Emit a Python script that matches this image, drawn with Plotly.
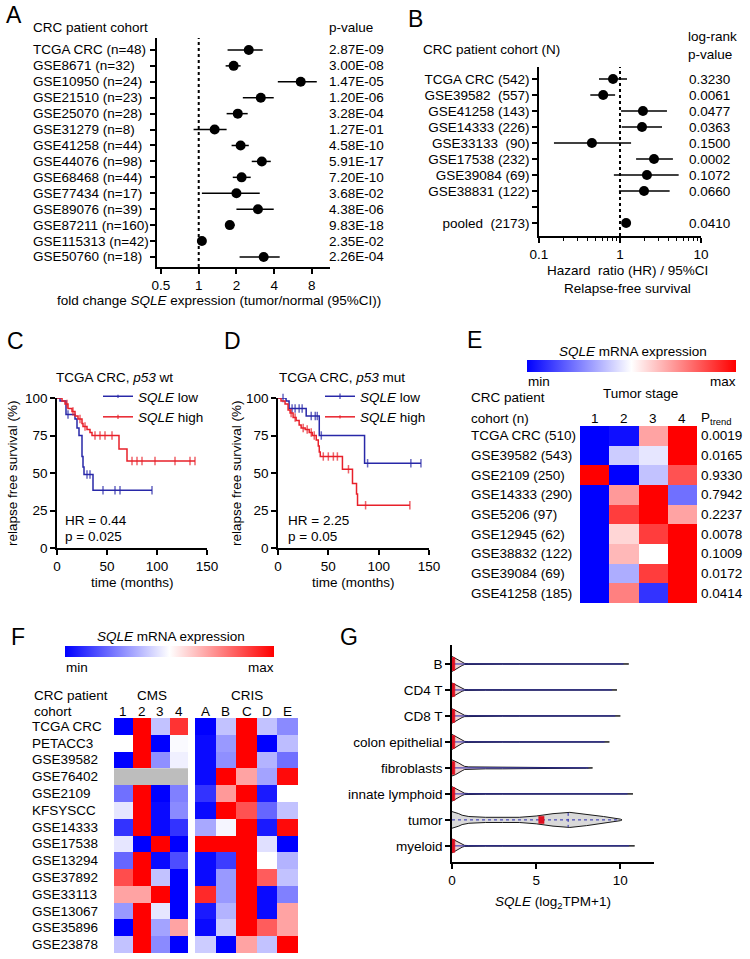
import plotly.graph_objects as go

W, H = 750, 959
FONT = "Liberation Sans, Arial, sans-serif"
FS = 13.5

# ---------------- Panel A data ----------------
a_cohorts = ["TCGA CRC (n=48)", "GSE8671 (n=32)", "GSE10950 (n=24)", "GSE21510 (n=23)",
             "GSE25070 (n=28)", "GSE31279 (n=8)", "GSE41258 (n=44)", "GSE44076 (n=98)",
             "GSE68468 (n=44)", "GSE77434 (n=17)", "GSE89076 (n=39)", "GSE87211 (n=160)",
             "GSE115313 (n=42)", "GSE50760 (n=18)"]
a_fc = [2.51, 1.90, 6.52, 3.13, 2.05, 1.34, 2.16, 3.19, 2.20, 2.00, 2.97, 1.77, 1.06, 3.30]
a_lo = [1.70, 1.64, 4.28, 2.25, 1.67, 0.91, 1.83, 2.65, 1.87, 1.06, 2.00, 1.64, 1.03, 2.12]
a_hi = [3.24, 2.16, 8.76, 3.97, 2.46, 1.67, 2.51, 3.76, 2.60, 3.07, 3.97, 1.94, 1.09, 4.43]
a_p = ["2.87E-09", "3.00E-08", "1.47E-05", "1.20E-06", "3.28E-04", "1.27E-01", "4.58E-10",
       "5.91E-17", "7.20E-10", "3.68E-02", "4.38E-06", "9.83E-18", "2.35E-02", "2.26E-04"]
a_ticks = [0.5, 1, 2, 4, 8]

# ---------------- Panel B data ----------------
b_cohorts = ["TCGA CRC (542)", "GSE39582\u00a0 (557)", "GSE41258 (143)", "GSE14333 (226)",
             "GSE33133\u00a0 (90)", "GSE17538 (232)", "GSE39084 (69)", "GSE38831 (122)", " ",
             "pooled\u00a0 (2173)"]
b_hr = [0.82, 0.62, 1.92, 1.87, 0.45, 2.63, 2.15, 1.98, None, 1.19]
b_lo = [0.55, 0.43, 1.03, 1.05, 0.153, 1.58, 0.84, 0.97, None, 1.08]
b_hi = [1.22, 0.87, 3.80, 3.30, 1.37, 4.50, 5.30, 4.10, None, 1.30]
b_p = ["0.3230", "0.0061", "0.0477", "0.0363", "0.1500", "0.0002", "0.1072", "0.0660", "", "0.0410"]
b_ticks = [0.1, 1, 10]
b_minor = [0.2, 0.3, 0.4, 0.5, 0.6, 0.7, 0.8, 0.9, 2, 3, 4, 5, 6, 7, 8, 9]

# ---------------- Panel C / D data (Kaplan-Meier) ----------------
c_low_t = [0, 3, 9, 18, 20, 22, 25, 26, 27, 36, 95]
c_low_s = [100, 98, 89, 86, 80, 75, 61, 54, 49, 38.5, 38.5]
c_low_cens = [11, 30, 33, 46, 58, 63, 95]
c_high_t = [0, 5, 8, 11, 15, 18, 21, 25, 26, 30, 33, 35, 62, 70, 138]
c_high_s = [100, 98, 96, 93, 91, 88, 86, 83, 81, 79, 77, 75, 66, 58, 58]
c_high_cens = [10, 16, 23, 28, 38, 43, 48, 55, 75, 80, 85, 98, 118, 133, 138]

d_low_t = [0, 8, 11, 28, 41, 86, 142]
d_low_s = [100, 98, 93, 88, 75, 56.5, 56.5]
d_low_cens = [5, 14, 17, 21, 24, 33, 37, 39, 43, 89, 132, 142]
d_high_t = [0, 3, 7, 10, 12, 15, 18, 21, 23, 27, 31, 34, 38, 40, 41, 42, 64, 74, 78, 79, 131]
d_high_s = [100, 98, 96, 92, 90, 87, 85, 82, 80, 79, 77, 75, 72, 68, 64, 61, 52.5, 43, 36, 28.5, 28.5]
d_high_cens = [13, 17, 25, 29, 33, 36, 45, 50, 55, 59, 70, 87, 131]

km_xticks = [0, 50, 100, 150]
km_yticks = [0, 25, 50, 75, 100]

# ---------------- Panel E data ----------------
e_cohorts = ["TCGA CRC (510)", "GSE39582 (543)", "GSE2109 (250)", "GSE14333 (290)", "GSE5206 (97)",
             "GSE12945 (62)", "GSE38832 (122)", "GSE39084 (69)", "GSE41258 (185)"]
e_stages = ["1", "2", "3", "4"]
e_z = [[0.00, 0.03, 0.68, 1.00],
       [0.00, 0.40, 0.45, 1.00],
       [1.00, 0.00, 0.38, 0.84],
       [0.00, 0.70, 1.00, 0.22],
       [0.00, 0.88, 1.00, 0.68],
       [0.00, 0.58, 0.88, 1.00],
       [0.00, 0.64, 0.50, 1.00],
       [0.00, 0.34, 0.88, 1.00],
       [0.00, 0.75, 0.10, 1.00]]
e_p = ["0.0019", "0.0165", "0.9330", "0.7942", "0.2237", "0.0078", "0.1009", "0.0172", "0.0414"]

# ---------------- Panel F data ----------------
f_cohorts = ["TCGA CRC", "PETACC3", "GSE39582", "GSE76402", "GSE2109", "KFSYSCC", "GSE14333",
             "GSE17538", "GSE13294", "GSE37892", "GSE33113", "GSE13067", "GSE35896", "GSE23878"]
f_cms_labels = ["1", "2", "3", "4"]
f_cris_labels = ["A", "B", "C", "D", "E"]
f_cms = [[0.00, 1.00, 0.38, 0.90],
         [0.50, 1.00, 0.00, 0.49],
         [0.00, 1.00, 0.28, 0.47],
         [None, None, None, None],
         [0.22, 1.00, 0.00, 0.25],
         [0.45, 1.00, 0.02, 0.27],
         [0.10, 1.00, 0.02, 0.10],
         [0.45, 0.00, 1.00, 0.00],
         [0.20, 1.00, 0.02, 0.15],
         [0.85, 1.00, 0.38, 0.00],
         [0.68, 0.68, 1.00, 0.00],
         [0.30, 1.00, 0.45, 0.00],
         [0.00, 1.00, 0.32, 0.68],
         [0.38, 1.00, 0.27, 0.00]]
f_cris = [[0.00, 0.38, 1.00, 0.38, 0.27],
          [0.02, 0.30, 1.00, 0.00, 0.37],
          [0.02, 0.28, 1.00, 0.35, 0.22],
          [0.02, 1.00, 0.68, 0.32, 0.98],
          [0.10, 0.70, 1.00, 0.05, 0.50],
          [0.02, 1.00, 0.84, 0.20, 0.38],
          [0.33, 0.48, 1.00, 0.05, 0.98],
          [1.00, 1.00, 1.00, 0.44, 0.00],
          [0.02, 0.12, 1.00, 0.50, 0.35],
          [0.02, 0.30, 1.00, 0.82, 0.38],
          [0.92, 0.30, 1.00, 0.02, 0.25],
          [0.05, 0.35, 1.00, 0.02, 0.68],
          [0.02, 0.40, 1.00, 0.82, 0.68],
          [0.40, 0.00, 0.68, 0.38, 1.00]]

# ---------------- Panel G data (violin density profiles, half-width in row units) ----------------
g_cells = ["B", "CD4 T", "CD8 T", "colon epithelial", "fibroblasts", "innate lymphoid", "tumor", "myeloid"]
g_grid = [0, 0.2, 0.4, 0.6, 0.75, 1, 2, 3, 4, 5, 6, 7, 8, 9, 10]
g_max = [10.5, 9.8, 10.0, 9.35, 8.35, 10.75, 10.1, 10.85]
g_width_B = [0.29, 0.22, 0.14, 0.06, 0.02, 0.012, 0.01, 0.01, 0.01, 0.01, 0.01, 0.01, 0.008, 0.007, 0.006]
g_width_CD4 = [0.27, 0.20, 0.12, 0.05, 0.02, 0.012, 0.01, 0.01, 0.01, 0.01, 0.01, 0.008, 0.007, 0.006, 0.005]
g_width_CD8 = [0.28, 0.21, 0.13, 0.06, 0.025, 0.014, 0.012, 0.01, 0.01, 0.01, 0.01, 0.008, 0.007, 0.006, 0.005]
g_width_epi = [0.29, 0.22, 0.14, 0.06, 0.02, 0.012, 0.01, 0.01, 0.01, 0.01, 0.01, 0.008, 0.007, 0.006, 0.005]
g_width_fib = [0.31, 0.26, 0.19, 0.11, 0.06, 0.04, 0.035, 0.035, 0.035, 0.03, 0.03, 0.02, 0.01, 0.0, 0.0]
g_width_ilc = [0.28, 0.21, 0.13, 0.06, 0.025, 0.014, 0.012, 0.01, 0.01, 0.01, 0.01, 0.008, 0.007, 0.006, 0.005]
g_width_tum = [0.32, 0.29, 0.24, 0.18, 0.15, 0.13, 0.10, 0.10, 0.10, 0.15, 0.24, 0.29, 0.22, 0.13, 0.03]
g_width_mye = [0.27, 0.20, 0.12, 0.05, 0.02, 0.012, 0.01, 0.01, 0.01, 0.01, 0.01, 0.008, 0.007, 0.006, 0.005]
g_widths = [g_width_B, g_width_CD4, g_width_CD8, g_width_epi, g_width_fib, g_width_ilc, g_width_tum, g_width_mye]
g_median = [0, 0, 0, 0, 0, 0, 5.15, 0]
g_q3 = [None, None, None, None, None, None, 6.9, None]
g_xticks = [0, 5, 10]

# ---------------- helpers ----------------
def px(x):
    return x / W

def py(y):
    return 1 - y / H

def dom_x(a, b):
    return [a / W, b / W]

def dom_y(top, bottom):
    return [1 - bottom / H, 1 - top / H]

BLUE_KM = "#2828a8"
RED_KM = "#e8202a"
CS = [[0, "#0000ff"], [0.5, "#ffffff"], [1, "#ff0000"]]

annotations = []
shapes = []

def ann(text, x, y, xanchor="left", yanchor="middle", size=FS, xref="paper", yref="paper", angle=0):
    annotations.append(dict(
        text=text, showarrow=False, xanchor=xanchor, yanchor=yanchor, textangle=angle,
        x=px(x) if xref == "paper" else x, y=py(y) if yref == "paper" else y,
        xref=xref, yref=yref, borderpad=0,
        font=dict(size=size, family=FONT, color="black")))

def axstyle(**kw):
    d = dict(showline=True, linecolor="black", linewidth=1.5, ticks="outside", ticklen=5,
             tickwidth=1.5, tickcolor="black", showgrid=False, zeroline=False, fixedrange=True,
             automargin=False, tickfont=dict(size=FS, family=FONT, color="black"))
    d.update(kw)
    return d

fig = go.Figure()

# ---------------- Panel A ----------------
a_rows = list(range(len(a_cohorts)))
fig.add_trace(go.Scatter(
    x=a_fc, y=a_rows, mode="markers", xaxis="x", yaxis="y", showlegend=False, cliponaxis=False,
    marker=dict(color="black", size=10),
    error_x=dict(type="data", symmetric=False, array=[h - f for h, f in zip(a_hi, a_fc)],
                 arrayminus=[f - l for f, l in zip(a_fc, a_lo)], color="black", thickness=1.5, width=0)))
shapes.append(dict(type="line", xref="x", yref="y domain", x0=1, x1=1, y0=0, y1=1,
                   line=dict(color="black", width=2, dash="dot"), layer="below"))
for i, (lab, p) in enumerate(zip(a_cohorts, a_p)):
    ann(lab, 32, i, yref="y")
    ann(p, 328, i, yref="y")
ann("CRC patient cohort", 32, 28)
ann("p-value", 328, 28)
ann("fold change <i>SQLE</i> expression (tumor/normal (95%CI))", 219, 300, xanchor="center")
ann("A", 5, 15, size=23)

# ---------------- Panel B ----------------
b_rows = list(range(len(b_cohorts)))
fig.add_trace(go.Scatter(
    x=b_hr, y=b_rows, mode="markers", xaxis="x2", yaxis="y2", showlegend=False, cliponaxis=False,
    marker=dict(color="black", size=10),
    error_x=dict(type="data", symmetric=False,
                 array=[(h - v) if v is not None else 0 for h, v in zip(b_hi, b_hr)],
                 arrayminus=[(v - l) if v is not None else 0 for v, l in zip(b_hr, b_lo)],
                 color="black", thickness=1.5, width=0)))
shapes.append(dict(type="line", xref="x2", yref="y2 domain", x0=1, x1=1, y0=0, y1=1,
                   line=dict(color="black", width=2, dash="dot"), layer="below"))
for i, p in enumerate(b_p):
    if p:
        ann(p, 688, i, yref="y2")
ann("CRC patient cohort (N)", 422, 49)
ann("log-rank", 687, 37)
ann("p-value", 687, 54)
ann("Hazard\u00a0 ratio (HR) / 95%CI", 627, 270, xanchor="center")
ann("Relapse-free survival", 627, 289, xanchor="center")
ann("B", 407, 19, size=23)

# ---------------- Panels C / D ----------------
def km_trace(ts, ss, cens, color, name, xa, ya, legend, show):
    pts = [(t, s, 0) for t, s in zip(ts, ss)]
    for c in cens:
        lvl = ss[0]
        for t, s in zip(ts, ss):
            if t <= c:
                lvl = s
        pts.append((c, lvl, 6))
    pts.sort(key=lambda p: (p[0], p[2]))
    return go.Scatter(
        x=[p[0] for p in pts], y=[p[1] for p in pts], mode="lines+markers", line_shape="hv",
        line=dict(color=color, width=1.5), name=name, xaxis=xa, yaxis=ya, legend=legend,
        showlegend=show, cliponaxis=False,
        marker=dict(symbol="line-ns", size=[p[2] for p in pts], color=color,
                    line=dict(width=1.5, color=color)))

fig.add_trace(km_trace(c_low_t, c_low_s, c_low_cens, BLUE_KM, "<i>SQLE</i> low", "x3", "y3", "legend", True))
fig.add_trace(km_trace(c_high_t, c_high_s, c_high_cens, RED_KM, "<i>SQLE</i> high", "x3", "y3", "legend", True))
fig.add_trace(km_trace(d_low_t, d_low_s, d_low_cens, BLUE_KM, "<i>SQLE</i> low", "x4", "y4", "legend2", True))
fig.add_trace(km_trace(d_high_t, d_high_s, d_high_cens, RED_KM, "<i>SQLE</i> high", "x4", "y4", "legend2", True))

ann("C", 6, 341, size=23)
ann("TCGA CRC, <i>p53</i> wt", 55, 377)
ann("HR = 0.44", 64, 520)
ann("p = 0.025", 64, 536)
ann("relapse free survival (%)", 13, 473, xanchor="center", angle=-90)
ann("time (months)", 132, 582, xanchor="center")

ann("D", 223, 341, size=23)
ann("TCGA CRC, <i>p53</i> mut", 278, 377)
ann("HR = 2.25", 287, 520)
ann("p = 0.05", 287, 536)
ann("relapse free survival (%)", 237, 473, xanchor="center", angle=-90)
ann("time (months)", 353, 582, xanchor="center")

# ---------------- Panel E ----------------
fig.add_trace(go.Heatmap(
    z=e_z, x=list(range(len(e_stages))), y=list(range(len(e_cohorts))), colorscale=CS, zmin=0, zmax=1,
    xaxis="x5", yaxis="y5", showscale=True,
    colorbar=dict(orientation="h", x=px((527 + 736) / 2), xanchor="center", y=py(360), yanchor="top",
                  len=(736 - 527) / W, lenmode="fraction", thickness=12, thicknessmode="pixels",
                  outlinewidth=0, showticklabels=False, ticks="", xpad=0, ypad=0)))
ann("E", 466, 340, size=23)
ann("<i>SQLE</i> mRNA expression", 633, 351, xanchor="center")
ann("min", 527, 382)
ann("max", 737, 382, xanchor="right")
ann("CRC patient", 470, 398)
ann("cohort (n)", 470, 418)
ann("Tumor stage", 640, 394, xanchor="center")
for j, s in enumerate(e_stages):
    annotations.append(dict(text=s, x=j, y=py(418), xref="x5", yref="paper", showarrow=False,
                            xanchor="center", yanchor="middle", font=dict(size=FS, family=FONT, color="black")))
ann("P<sub>trend</sub>", 700, 418)
for i, (lab, p) in enumerate(zip(e_cohorts, e_p)):
    ann(lab, 470, i, yref="y5")
    ann(p, 700, i, yref="y5")

# ---------------- Panel F ----------------
fig.add_trace(go.Heatmap(
    z=f_cms, x=list(range(len(f_cms_labels))), y=list(range(len(f_cohorts))), colorscale=CS,
    zmin=0, zmax=1, xaxis="x6", yaxis="y6", showscale=True, hoverongaps=False,
    colorbar=dict(orientation="h", x=px((65 + 274) / 2), xanchor="center", y=py(646), yanchor="top",
                  len=(274 - 65) / W, lenmode="fraction", thickness=11, thicknessmode="pixels",
                  outlinewidth=0, showticklabels=False, ticks="", xpad=0, ypad=0)))
fig.add_trace(go.Heatmap(
    z=f_cris, x=list(range(len(f_cris_labels))), y=list(range(len(f_cohorts))), colorscale=CS,
    zmin=0, zmax=1, xaxis="x7", yaxis="y7", showscale=False))
for i, row in enumerate(f_cms):
    if all(v is None for v in row):
        shapes.append(dict(type="rect", xref="x6 domain", yref="y6", x0=0, x1=1, y0=i - 0.5, y1=i + 0.5,
                           fillcolor="#bdbdbd", line=dict(width=0), layer="below"))
ann("F", 10, 637, size=23)
ann("<i>SQLE</i> mRNA expression", 171, 636, xanchor="center")
ann("min", 65, 667)
ann("max", 275, 667, xanchor="right")
ann("CRC patient", 33, 695)
ann("cohort", 33, 711)
ann("CMS", 152, 695, xanchor="center")
ann("CRIS", 247, 695, xanchor="center")
for j, s in enumerate(f_cms_labels):
    annotations.append(dict(text=s, x=j, y=py(711), xref="x6", yref="paper", showarrow=False,
                            xanchor="center", yanchor="middle", font=dict(size=FS, family=FONT, color="black")))
for j, s in enumerate(f_cris_labels):
    annotations.append(dict(text=s, x=j, y=py(711), xref="x7", yref="paper", showarrow=False,
                            xanchor="center", yanchor="middle", font=dict(size=FS, family=FONT, color="black")))
for i, lab in enumerate(f_cohorts):
    ann(lab, 31, i, yref="y6")

# ---------------- Panel G ----------------
for i, (cell, mx, ws) in enumerate(zip(g_cells, g_max, g_widths)):
    xs = [g for g in g_grid if g < mx] + [mx]
    wv = [w for g, w in zip(g_grid, ws) if g < mx] + [0]
    fill = "#d9d9d9" if cell == "tumor" else "#ecd2d2"
    fig.add_trace(go.Scatter(
        x=xs + xs[::-1], y=[i - w for w in wv] + [i + w for w in wv[::-1]], mode="lines", fill="toself",
        fillcolor=fill, line=dict(color="#1a1a1a", width=1), xaxis="x8", yaxis="y8",
        showlegend=False, hoverinfo="skip", cliponaxis=False))
    fig.add_trace(go.Scatter(
        x=[0, mx * 0.97], y=[i, i], mode="lines", line=dict(color="#2a2ab0", width=1,
                                                           dash="dot" if cell == "tumor" else "solid"),
        xaxis="x8", yaxis="y8", showlegend=False, hoverinfo="skip", cliponaxis=False))
    med = g_median[i]
    hw = 0.14 if cell == "tumor" else 0.25
    mw = 0.32 if cell == "tumor" else 0.17
    fig.add_trace(go.Scatter(
        x=[med, med + mw, med + mw, med, med], y=[i - hw, i - hw, i + hw, i + hw, i - hw],
        mode="lines", fill="toself", fillcolor="#e01020", line=dict(color="#e01020", width=0.5),
        xaxis="x8", yaxis="y8", showlegend=False, hoverinfo="skip", cliponaxis=False))
    if g_q3[i] is not None:
        q = g_q3[i]
        fig.add_trace(go.Scatter(
            x=[q, q], y=[i - 0.27, i + 0.27], mode="lines", line=dict(color="#2a2ab0", width=1, dash="dot"),
            xaxis="x8", yaxis="y8", showlegend=False, hoverinfo="skip"))
ann("G", 339, 637, size=23)
ann("<i>SQLE</i> (log<sub>2</sub>TPM+1)", 553, 902, xanchor="center")

# ---------------- layout ----------------
legend_common = dict(xanchor="left", yanchor="top", bgcolor="rgba(0,0,0,0)", borderwidth=0,
                     font=dict(size=FS, family=FONT, color="black"), itemwidth=30, tracegroupgap=0,
                     itemclick=False, itemdoubleclick=False)

fig.update_layout(
    width=W, height=H, autosize=False,
    margin=dict(l=0, r=0, t=0, b=0, pad=0, autoexpand=False),
    paper_bgcolor="white", plot_bgcolor="white",
    font=dict(family=FONT, size=FS, color="black"),
    annotations=annotations, shapes=shapes,
    legend=dict(x=px(98), y=py(381), **legend_common),
    legend2=dict(x=px(320), y=py(381), **legend_common),
    # A
    xaxis=axstyle(domain=dom_x(157, 330), anchor="y", type="log", range=[-0.333, 1.048],
                  tickvals=a_ticks, ticktext=[str(t) for t in a_ticks]),
    yaxis=axstyle(domain=dom_y(38, 267), anchor="x", range=[13.63, -0.75],
                  tickvals=a_rows, showticklabels=False),
    # B
    xaxis2=axstyle(domain=dom_x(539, 701), anchor="y2", type="log", range=[-1, 1],
                   tickvals=b_ticks, ticktext=[str(t) for t in b_ticks], ticklen=5,
                   minor=dict(ticks="outside", ticklen=3, tickwidth=1, tickcolor="black", tickvals=b_minor)),
    yaxis2=axstyle(domain=dom_y(67, 236), anchor="x2", range=[9.81, -0.75],
                   tickvals=b_rows, ticktext=b_cohorts),
    # C
    xaxis3=axstyle(domain=dom_x(57, 207), anchor="y3", range=[0, 150], tickvals=km_xticks),
    yaxis3=axstyle(domain=dom_y(398, 548), anchor="x3", range=[0, 100], tickvals=km_yticks),
    # D
    xaxis4=axstyle(domain=dom_x(278, 429), anchor="y4", range=[0, 150], tickvals=km_xticks),
    yaxis4=axstyle(domain=dom_y(398, 548), anchor="x4", range=[0, 100], tickvals=km_yticks),
    # E
    xaxis5=dict(domain=dom_x(580, 697), anchor="y5", range=[-0.5, 3.5], visible=False, fixedrange=True),
    yaxis5=dict(domain=dom_y(426, 603), anchor="x5", range=[8.5, -0.5], visible=False, fixedrange=True),
    # F
    xaxis6=dict(domain=dom_x(114, 188), anchor="y6", range=[-0.5, 3.5], visible=False, fixedrange=True),
    yaxis6=dict(domain=dom_y(718, 953), anchor="x6", range=[13.5, -0.5], visible=False, fixedrange=True),
    xaxis7=dict(domain=dom_x(195, 298), anchor="y7", range=[-0.5, 4.5], visible=False, fixedrange=True),
    yaxis7=dict(domain=dom_y(718, 953), anchor="x7", range=[13.5, -0.5], visible=False, fixedrange=True),
    # G
    xaxis8=axstyle(domain=dom_x(452, 654), anchor="y8", range=[0, 12], tickvals=g_xticks),
    yaxis8=axstyle(domain=dom_y(645, 862), anchor="x8", range=[7.62, -0.73],
                   tickvals=list(range(len(g_cells))), ticktext=g_cells),
)

fig.write_html("out.html", config={"displayModeBar": False},
               post_script="document.body.style.margin='0px';document.body.style.padding='0px';")
